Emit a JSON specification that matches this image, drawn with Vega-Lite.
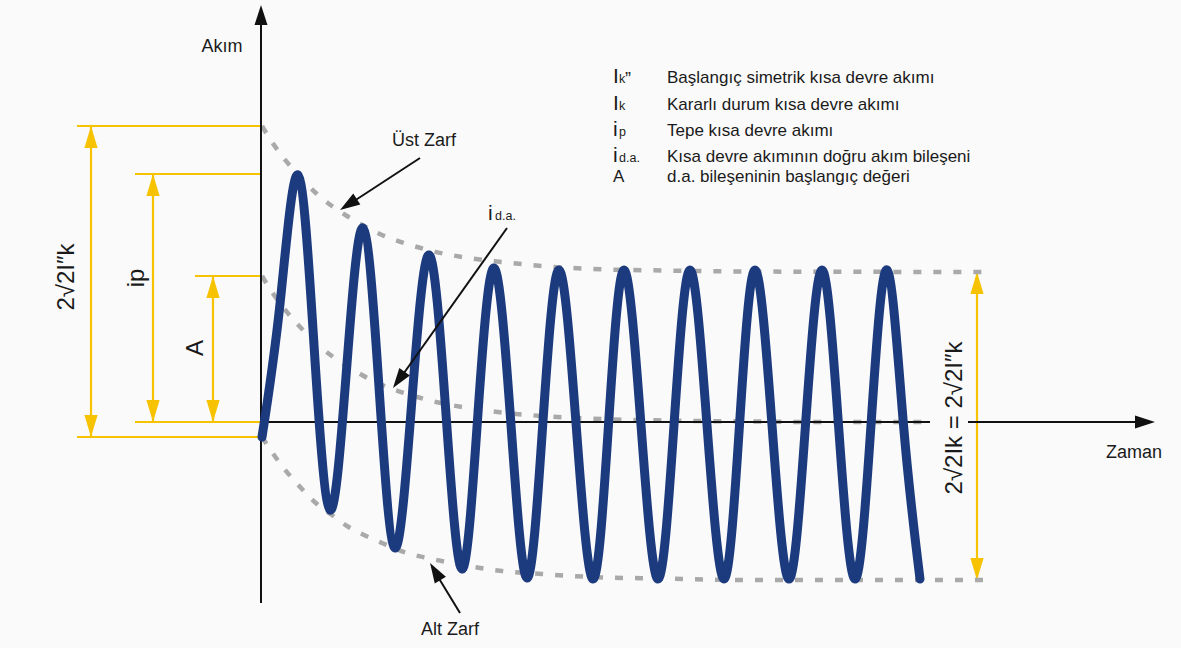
{
  "$schema": "https://vega.github.io/schema/vega-lite/v6.json",
  "width": 1181,
  "height": 648,
  "autosize": {"type": "none"},
  "padding": 0,
  "background": "#fafafa",
  "config": {"view": {"stroke": null}, "text": {"font": "Liberation Sans", "color": "#1a1a1a"}},
  "encoding": {
    "x": {"field": "t", "type": "quantitative", "scale": {"domain": [-261, 920], "nice": false, "zero": false}, "axis": null},
    "y": {"field": "i", "type": "quantitative", "scale": {"domain": [-226, 422], "nice": false, "zero": false}, "axis": null}
  },
  "layer": [
    {
      "data": {"values": [
        {"t": -170, "i": 296, "t2": -170, "i2": -15},
        {"t": -108, "i": 248, "t2": -108, "i2": 0},
        {"t": -48, "i": 146, "t2": -48, "i2": 0},
        {"t": 716, "i": 150, "t2": 716, "i2": -158},
        {"t": -184, "i": 296, "t2": 0, "i2": 296},
        {"t": -126, "i": 248, "t2": 0, "i2": 248},
        {"t": -66, "i": 146, "t2": 0, "i2": 146},
        {"t": -126, "i": 0, "t2": 0, "i2": 0},
        {"t": -184, "i": -15, "t2": 0, "i2": -15}
      ]},
      "mark": {"type": "rule", "color": "#f7c200", "strokeWidth": 2.2},
      "encoding": {"x2": {"field": "t2"}, "y2": {"field": "i2"}}
    },
    {
      "data": {"values": [
        {"t": -170, "i": 285, "dir": 0}, {"t": -170, "i": -4, "dir": 180},
        {"t": -108, "i": 237, "dir": 0}, {"t": -108, "i": 11, "dir": 180},
        {"t": -48, "i": 135, "dir": 0}, {"t": -48, "i": 11, "dir": 180},
        {"t": 716, "i": 139, "dir": 0}, {"t": 716, "i": -147, "dir": 180}
      ]},
      "mark": {"type": "point", "filled": true, "opacity": 1, "color": "#f7c200", "size": 484, "shape": "M0,-1L-0.6,1L0.6,1Z", "strokeWidth": 0},
      "encoding": {"angle": {"field": "dir", "type": "quantitative", "scale": null}}
    },
    {
      "data": {"values": [
        {"g": "up", "t": 1, "i": 296}, {"g": "up", "t": 11, "i": 280}, {"g": "up", "t": 21, "i": 266}, {"g": "up", "t": 31, "i": 254},
        {"g": "up", "t": 41, "i": 243}, {"g": "up", "t": 56, "i": 228}, {"g": "up", "t": 71, "i": 216}, {"g": "up", "t": 86, "i": 206},
        {"g": "up", "t": 101, "i": 197}, {"g": "up", "t": 121, "i": 187}, {"g": "up", "t": 146, "i": 178}, {"g": "up", "t": 171, "i": 171},
        {"g": "up", "t": 201, "i": 165}, {"g": "up", "t": 241, "i": 160}, {"g": "up", "t": 281, "i": 156}, {"g": "up", "t": 331, "i": 153},
        {"g": "up", "t": 401, "i": 151.5}, {"g": "up", "t": 481, "i": 150.5}, {"g": "up", "t": 724, "i": 150},
        {"g": "mid", "t": 1, "i": 146}, {"g": "mid", "t": 11, "i": 130}, {"g": "mid", "t": 21, "i": 116}, {"g": "mid", "t": 31, "i": 104},
        {"g": "mid", "t": 41, "i": 93}, {"g": "mid", "t": 56, "i": 78}, {"g": "mid", "t": 71, "i": 66}, {"g": "mid", "t": 86, "i": 56},
        {"g": "mid", "t": 101, "i": 47}, {"g": "mid", "t": 121, "i": 37}, {"g": "mid", "t": 146, "i": 28}, {"g": "mid", "t": 171, "i": 21},
        {"g": "mid", "t": 201, "i": 15}, {"g": "mid", "t": 241, "i": 9.5}, {"g": "mid", "t": 281, "i": 6}, {"g": "mid", "t": 331, "i": 3.3},
        {"g": "mid", "t": 401, "i": 1.5}, {"g": "mid", "t": 481, "i": 0.6}, {"g": "mid", "t": 560, "i": 0}, {"g": "mid", "t": 669, "i": 0},
        {"g": "low", "t": 1, "i": -15}, {"g": "low", "t": 11, "i": -30}, {"g": "low", "t": 21, "i": -44}, {"g": "low", "t": 31, "i": -56},
        {"g": "low", "t": 41, "i": -67}, {"g": "low", "t": 56, "i": -82}, {"g": "low", "t": 71, "i": -93}, {"g": "low", "t": 86, "i": -104},
        {"g": "low", "t": 101, "i": -112}, {"g": "low", "t": 121, "i": -121}, {"g": "low", "t": 146, "i": -131}, {"g": "low", "t": 171, "i": -137},
        {"g": "low", "t": 201, "i": -143}, {"g": "low", "t": 241, "i": -149}, {"g": "low", "t": 281, "i": -152}, {"g": "low", "t": 331, "i": -155},
        {"g": "low", "t": 401, "i": -156.5}, {"g": "low", "t": 481, "i": -158}, {"g": "low", "t": 724, "i": -158}
      ]},
      "mark": {"type": "line", "interpolate": "monotone", "color": "#a9a9a9", "strokeWidth": 4.5, "strokeDash": [8, 12]},
      "encoding": {"detail": {"field": "g"}}
    },
    {
      "data": {"values": [
        {"t": 0, "i": 400, "t2": 0, "i2": -181},
        {"t": 0, "i": 0, "t2": 669, "i2": 0},
        {"t": 707, "i": 0, "t2": 874, "i2": 0}
      ]},
      "mark": {"type": "rule", "color": "#111111", "strokeWidth": 2},
      "encoding": {"x2": {"field": "t2"}, "y2": {"field": "i2"}}
    },
    {
      "data": {"values": [
        {"t": 1, "i": -15}, {"t": 19, "i": 118}, {"t": 37, "i": 247}, {"t": 53, "i": 77}, {"t": 69, "i": -88},
        {"t": 85.5, "i": 52}, {"t": 102, "i": 194}, {"t": 118, "i": 35}, {"t": 134, "i": -126}, {"t": 151, "i": 23},
        {"t": 168, "i": 167}, {"t": 184.5, "i": 15}, {"t": 201, "i": -147}, {"t": 217, "i": 9}, {"t": 233, "i": 154},
        {"t": 249.5, "i": 4}, {"t": 266, "i": -156}, {"t": 282, "i": 1}, {"t": 298, "i": 152}, {"t": 315, "i": -1},
        {"t": 332, "i": -157}, {"t": 347.5, "i": -3}, {"t": 363, "i": 152}, {"t": 380, "i": -3}, {"t": 397, "i": -157},
        {"t": 413, "i": -3}, {"t": 429, "i": 152}, {"t": 446, "i": -3}, {"t": 463, "i": -157}, {"t": 478.5, "i": -3},
        {"t": 494, "i": 152}, {"t": 511, "i": -3}, {"t": 528, "i": -157}, {"t": 544.5, "i": -3}, {"t": 561, "i": 152},
        {"t": 577.5, "i": -3}, {"t": 594, "i": -157}, {"t": 610, "i": -3}, {"t": 626, "i": 152}, {"t": 642.5, "i": -3},
        {"t": 659, "i": -157}
      ]},
      "mark": {"type": "line", "interpolate": "natural", "color": "#1c3a7e", "strokeWidth": 9, "strokeCap": "round", "strokeJoin": "round"}
    },
    {
      "data": {"values": [
        {"t": 159, "i": 264, "t2": 87, "i2": 217},
        {"t": 246, "i": 194, "t2": 138, "i2": 42},
        {"t": 199, "i": -191, "t2": 174, "i2": -150}
      ]},
      "mark": {"type": "rule", "color": "#111111", "strokeWidth": 2},
      "encoding": {"x2": {"field": "t2"}, "y2": {"field": "i2"}}
    },
    {
      "data": {"values": [
        {"t": 0, "i": 407, "dir": 0}, {"t": 884, "i": 0, "dir": 90},
        {"t": 87.4, "i": 217.5, "dir": 237}, {"t": 137.8, "i": 42.1, "dir": 215.5}, {"t": 174.2, "i": -149.6, "dir": 329}
      ]},
      "mark": {"type": "point", "filled": true, "opacity": 1, "color": "#111111", "size": 400, "shape": "M0,-1L-0.65,1L0.65,1Z", "strokeWidth": 0},
      "encoding": {"angle": {"field": "dir", "type": "quantitative", "scale": null}}
    },
    {
      "data": {"values": [
        {"t": -39, "i": 375, "txt": "Akım"},
        {"t": 873, "i": -31, "txt": "Zaman"},
        {"t": 163, "i": 281, "txt": "Üst Zarf"},
        {"t": 189, "i": -208, "txt": "Alt Zarf"}
      ]},
      "mark": {"type": "text", "fontSize": 18, "align": "center", "baseline": "middle"},
      "encoding": {"text": {"field": "txt"}}
    },
    {
      "data": {"values": [
        {"t": 406, "i": 339, "txt": "Başlangıç simetrik kısa devre akımı"},
        {"t": 406, "i": 312, "txt": "Kararlı durum kısa devre akımı"},
        {"t": 406, "i": 286, "txt": "Tepe kısa devre akımı"},
        {"t": 406, "i": 260, "txt": "Kısa devre akımının doğru akım bileşeni"},
        {"t": 406, "i": 240, "txt": "d.a. bileşeninin başlangıç değeri"},
        {"t": 352, "i": 240, "txt": "A"}
      ]},
      "mark": {"type": "text", "fontSize": 17, "align": "left", "baseline": "alphabetic"},
      "encoding": {"text": {"field": "txt"}}
    },
    {
      "data": {"values": [
        {"t": 352, "i": 339, "txt": "I"},
        {"t": 352, "i": 312, "txt": "I"},
        {"t": 352, "i": 286, "txt": "i"},
        {"t": 352, "i": 260, "txt": "i"},
        {"t": 227, "i": 202, "txt": "i"}
      ]},
      "mark": {"type": "text", "fontSize": 21, "align": "left", "baseline": "alphabetic"},
      "encoding": {"text": {"field": "txt"}}
    },
    {
      "data": {"values": [
        {"t": 358, "i": 339, "txt": "k"},
        {"t": 358, "i": 312, "txt": "k"},
        {"t": 358, "i": 286, "txt": "p"},
        {"t": 358, "i": 260, "txt": "d.a."},
        {"t": 234, "i": 202, "txt": "d.a."}
      ]},
      "mark": {"type": "text", "fontSize": 12.5, "align": "left", "baseline": "alphabetic"},
      "encoding": {"text": {"field": "txt"}}
    },
    {
      "data": {"values": [{"t": 364, "i": 337, "txt": "”"}]},
      "mark": {"type": "text", "fontSize": 18, "align": "left", "baseline": "alphabetic"},
      "encoding": {"text": {"field": "txt"}}
    },
    {
      "data": {"values": [
        {"t": -194, "i": 145, "txt": "2√2I″k"},
        {"t": -124, "i": 144, "txt": "ip"},
        {"t": -65, "i": 74, "txt": "A"},
        {"t": 694, "i": 4, "txt": "2√2Ik = 2√2I″k"}
      ]},
      "mark": {"type": "text", "fontSize": 24, "align": "center", "baseline": "middle", "angle": 270},
      "encoding": {"text": {"field": "txt"}}
    }
  ]
}
